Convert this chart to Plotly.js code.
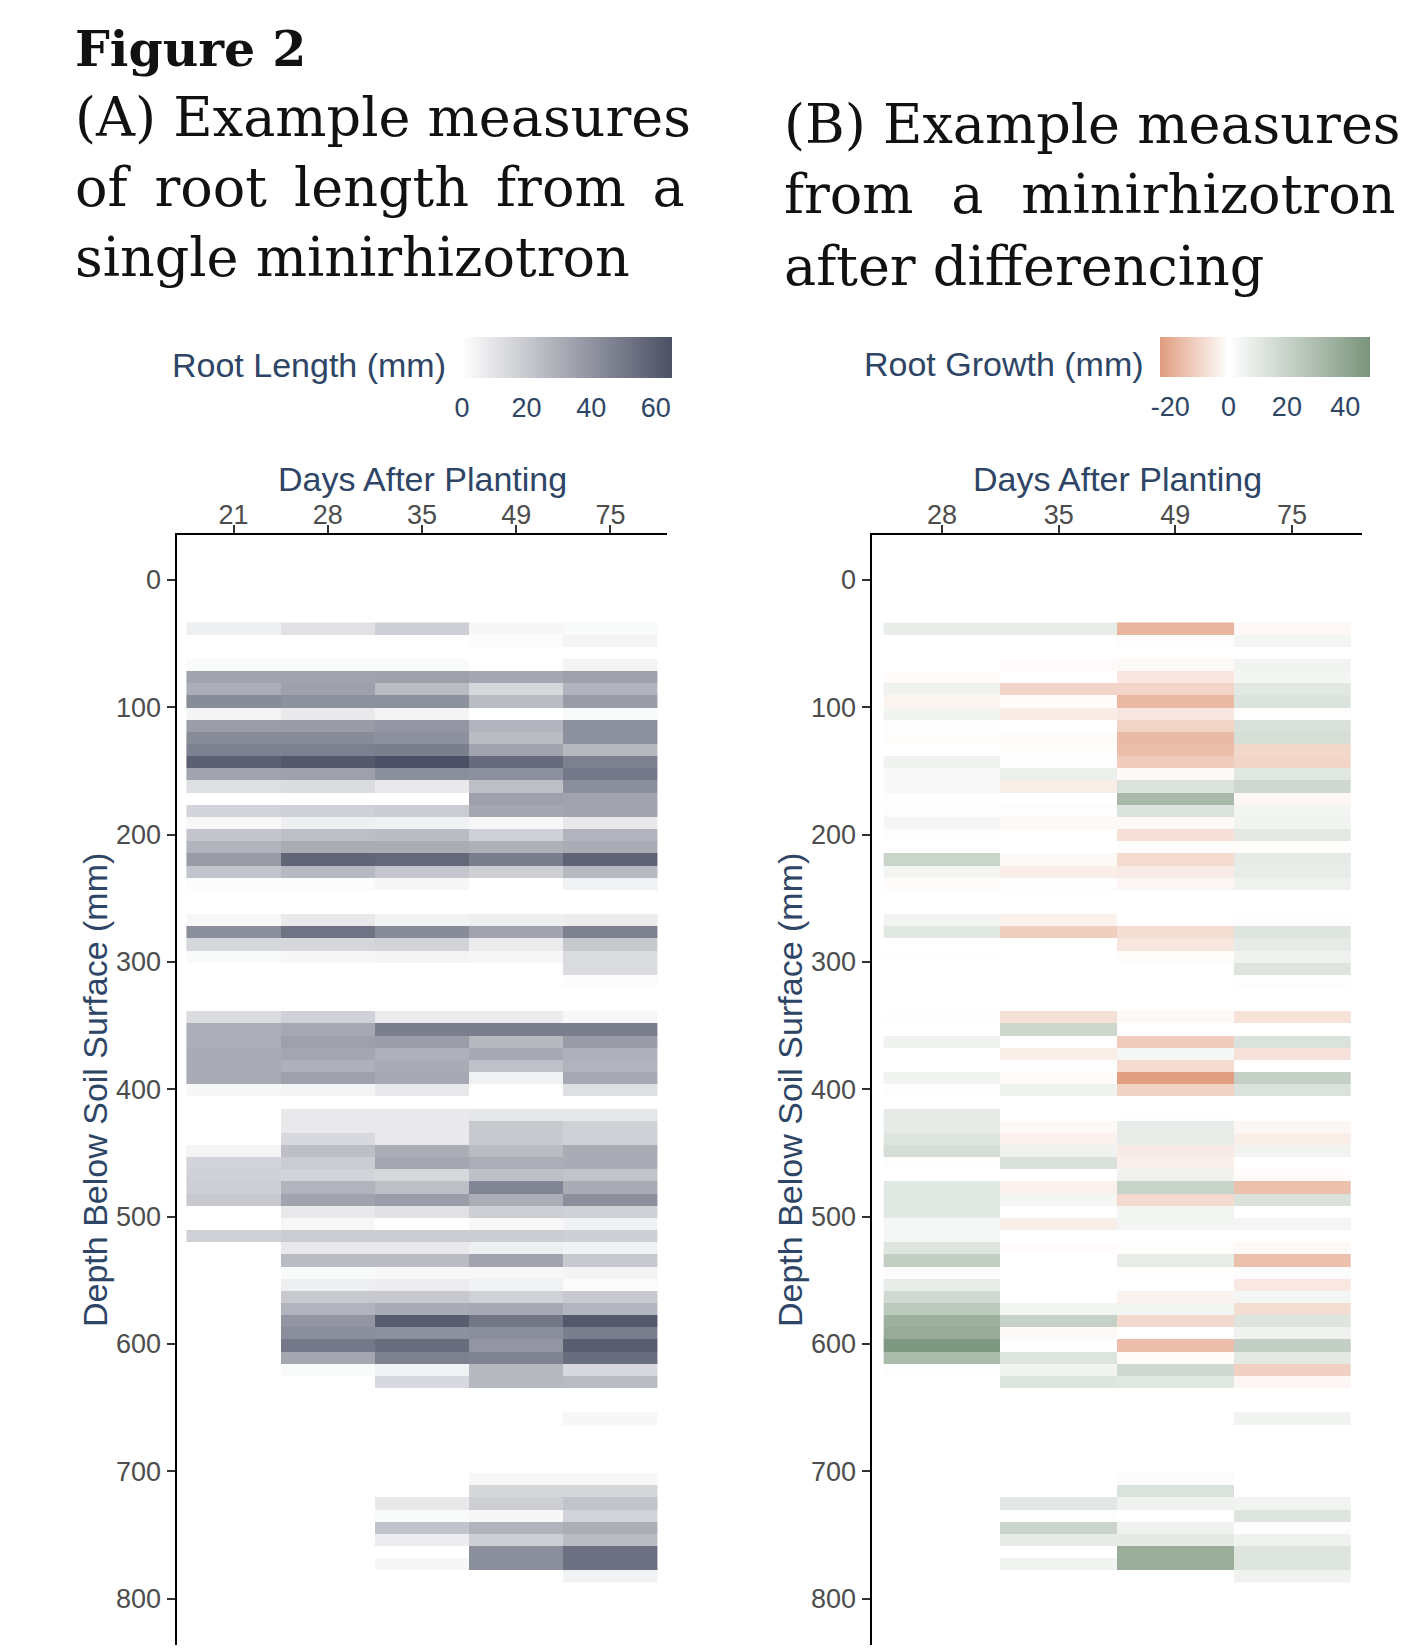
<!DOCTYPE html>
<html>
<head>
<meta charset="utf-8">
<script src="https://cdn.plot.ly/plotly-3.0.1.min.js"></script>
<style>
  html, body { margin: 0; padding: 0; background: #ffffff; }
  #chart { width: 1401px; height: 1652px; }
</style>
</head>
<body>
<div id="chart"></div>
<script>
// ---------------- DATA ----------------
// Day categories
const days = ['21', '28', '35', '49', '75'];
const diffDays = ['28', '35', '49', '75'];

// Depth below soil surface (mm) of each image row (frame centres)
const depth = [
  38.18, 47.73, 57.28, 66.82, 76.37, 85.91, 95.46, 105.01, 114.55, 124.10,
  133.64, 143.19, 152.74, 162.28, 171.83, 181.37, 190.92, 200.47, 210.01, 219.56,
  229.10, 238.65, 248.20, 257.74, 267.29, 276.83, 286.38, 295.93, 305.47, 315.02,
  324.56, 334.11, 343.66, 353.20, 362.75, 372.29, 381.84, 391.39, 400.93, 410.48,
  420.02, 429.57, 439.12, 448.66, 458.21, 467.75, 477.30, 486.85, 496.39, 505.94,
  515.48, 525.03, 534.58, 544.12, 553.67, 563.21, 572.76, 582.31, 591.85, 601.40,
  610.94, 620.49, 630.04, 639.58, 649.13, 658.67, 668.22, 677.77, 687.31, 696.86,
  706.40, 715.95, 725.50, 735.04, 744.59, 754.13, 763.68, 773.23, 782.77
];

const n = null;
// (A) Root length (mm) per depth row, one array per sampling day
const rootLen21 = [
  6, n, n, 2, 34, 30, 43, 4, 36, 43,
  47, 59, 34, 12, n, 16, 3, 21, 28, 37,
  22, 1, n, n, 3, 42, 15, 2, n, n,
  n, n, 13, 30, 30, 31, 31, 31, 3, n,
  n, n, n, 4, 16, 17, 18, 20, n, n,
  17, n, n, n, n, n, n, n, n, n,
  n, n, n, n, n, n, n, n, n, n,
  n, n, n, n, n, n, n, n, n
];
const rootLen28 = [
  11, n, n, 2, 34, 35, 41, 8, 37, 43,
  47, 62, 35, 13, n, 17, 6, 24, 31, 57,
  26, 1, n, n, 8, 52, 15, 3, n, n,
  n, n, 17, 32, 35, 33, 29, 35, 4, n,
  8, 8, 14, 24, 19, 16, 28, 34, 8, 3,
  19, 8, 25, 2, 6, 20, 28, 39, 42, 50,
  33, 2, n, n, n, n, n, n, n, n,
  n, n, n, n, n, n, n, n, n
];
const rootLen35 = [
  18, n, n, 2, 35, 25, 41, 4, 39, 41,
  48, 65, 42, 8, n, 19, 5, 25, 31, 56,
  21, 3, n, n, 5, 43, 16, 4, n, n,
  n, n, 7, 48, 36, 29, 31, 32, 8, n,
  8, 8, 8, 30, 33, 15, 24, 36, 11, 0,
  19, 8, 25, 3, 7, 20, 31, 60, 41, 54,
  47, 5, 14, n, n, n, n, n, n, n,
  n, n, 8, 2, 22, 7, n, 3, n
];
const rootLen49 = [
  3, 1, n, n, 33, 15, 25, 0, 28, 25,
  34, 55, 41, 24, 35, 33, 3, 17, 29, 48,
  18, n, n, n, 6, 34, 7, 3, n, n,
  n, n, 7, 48, 26, 32, 23, 5, n, n,
  9, 20, 20, 25, 30, 23, 45, 30, 18, 3,
  19, 6, 34, 3, 5, 17, 32, 51, 42, 39,
  46, 26, 26, n, n, n, n, n, n, n,
  3, 15, 18, 3, 28, 18, 42, 42, n
];
const rootLen75 = [
  2, 4, n, 4, 35, 28, 37, 2, 41, 41,
  26, 47, 50, 42, 34, 34, 8, 28, 31, 58,
  26, 5, n, n, 7, 47, 20, 13, 13, 1,
  n, n, 3, 48, 37, 29, 28, 32, 12, n,
  9, 17, 17, 31, 31, 22, 31, 42, 17, 5,
  18, 5, 20, 4, 1, 20, 27, 62, 48, 60,
  54, 14, 25, n, n, 3, n, n, n, n,
  3, 15, 22, 16, 30, 25, 53, 53, 5
];

// (B) Root growth (mm) after differencing, one array per sampling day
const growth28 = [
  8, n, n, n, -1, 6, -2.6, 5, 1, -0.5,
  0, 6, 3, 3, 0.5, 1, 4, 1, 0, 19.7,
  4, -1, n, n, 5, 10.6, 0, 0.5, n, n,
  n, n, 0.5, 0, 6, 0, 0, 5, 1, n,
  9, 9, 12, 15.3, 1, 0, 10.5, 10.5, 10.5, 3.5,
  3.5, 12, 22, 1.5, 8, 17, 24.4, 35.4, 38, 46.7,
  31, 1, n, n, n, n, n, n, n, n,
  n, n, n, n, n, n, n, n, n
];
const growth35 = [
  8, n, n, -1, 0, -10, -1, -4.7, 0, -0.7,
  -0.5, 1, 7, -4.3, 0, 1, -1.5, 0, 0, -1.5,
  -4, 1, n, n, -3.3, -11.4, 0, 0, n, n,
  n, n, -7.3, 18, 0, -4, 0.5, -1, 6, n,
  0, -1.5, -3.3, 6, 13.5, 0, -3.3, 4, 0, -4.3,
  0, -1, 0, 0, 0, 0, 4.5, 21, -1.5, 0.5,
  12, 5, 12, n, n, n, n, n, n, n,
  n, n, 10.5, 1, 19.5, 9, n, 5, n
];
const growth49 = [
  -17.6, 1, n, -1.5, -5.7, -10, -16.6, -5.7, -10.2, -16.4,
  -15.2, -12, -1.5, 13, 31.7, 12.8, -1.5, -7.3, -0.5, -8.3,
  -5, -2, n, n, 0, -8, -6, -0.5, n, n,
  n, n, -1.5, 0, -12, 3.5, -8.3, -22.8, -10.5, n,
  0.5, 8.5, 8.5, -5, -3.6, 6, 20, -9, 4.5, 4,
  0, -0.5, 8.5, -0.3, 0, -2.8, 4.5, -9, 0, -15.3,
  -1, 17, 11, n, n, n, n, n, n, n,
  2, 13, 6, 0, 6, 9.5, 37, 37, n
];
const growth75 = [
  -1.7, 4.7, n, 5, 4, 11, 12.8, 1, 14.2, 15,
  -9.5, -10, 11, 17.5, -2, 4.5, 5, 10, -0.5, 9,
  8, 6, n, n, 1, 12, 9, 6, 12, 1,
  n, n, -7, 0, 13, -6.8, 0, 21.5, 13, n,
  0, -2, -4, 5, 0, -1, -15, 13, 0, 4,
  0, -1.5, -15, 1.5, -5.5, 4, -8, 12, 6, 22,
  10, -11, -2, n, n, 5, n, n, n, n,
  0, 0, 5, 12, 1, 6, 12, 12, 6
];

const yTicks = [0, 100, 200, 300, 400, 500, 600, 700, 800];
const lengthTicks = [0, 20, 40, 60];
const growthTicks = [-20, 0, 20, 40];

// ---------------- LAYOUT HELPERS ----------------
const W = 1401, H = 1652;
const px = v => v / W;
const py = v => 1 - v / H;

const navy = '#2E4566';
const tickGrey = '#4D4D4D';
const sans = 'Liberation Sans, Arial, sans-serif';
const serif = 'DejaVu Serif, serif';

const zA = depth.map((d, i) => [rootLen21[i], rootLen28[i], rootLen35[i], rootLen49[i], rootLen75[i]]);
const zB = depth.map((d, i) => [growth28[i], growth35[i], growth49[i], growth75[i]]);

const gMin = -23.5, gMax = 48.5;

const traceA = {
  type: 'heatmap', x: days, y: depth, z: zA, xaxis: 'x', yaxis: 'y',
  zmin: 0, zmax: 65,
  colorscale: [[0, '#FFFFFF'], [1, '#4B5064']],
  hoverongaps: false,
  colorbar: {
    orientation: 'h', x: px(462), xanchor: 'left', y: py(337), yanchor: 'top',
    len: 210, lenmode: 'pixels', thickness: 41, thicknessmode: 'pixels',
    xpad: 0, ypad: 0, outlinewidth: 0,
    tickmode: 'array', tickvals: lengthTicks, ticktext: lengthTicks.map(String),
    ticks: 'outside', ticklen: 7, tickcolor: 'rgba(0,0,0,0)',
    tickfont: { family: sans, size: 27, color: navy }
  }
};
const traceB = {
  type: 'heatmap', x: diffDays, y: depth, z: zB, xaxis: 'x2', yaxis: 'y2',
  zmin: gMin, zmax: gMax,
  colorscale: [[0, '#E09C7E'], [(0 - gMin) / (gMax - gMin), '#FFFFFF'], [1, '#7A947C']],
  hoverongaps: false,
  colorbar: {
    orientation: 'h', x: px(1160), xanchor: 'left', y: py(337), yanchor: 'top',
    len: 210, lenmode: 'pixels', thickness: 40, thicknessmode: 'pixels',
    xpad: 0, ypad: 0, outlinewidth: 0,
    tickmode: 'array', tickvals: growthTicks, ticktext: growthTicks.map(String),
    ticks: 'outside', ticklen: 7, tickcolor: 'rgba(0,0,0,0)',
    tickfont: { family: sans, size: 27, color: navy }
  }
};

function xAxis(domain, nCat) {
  return {
    domain: domain, side: 'top', type: 'category',
    range: [-0.6, nCat - 1 + 0.6],
    showline: true, linecolor: '#000000', linewidth: 2.5,
    ticks: 'outside', ticklen: 8, tickwidth: 2, tickcolor: '#333333',
    ticklabelstandoff: -10,
    tickfont: { family: sans, size: 27, color: tickGrey },
    showgrid: false, zeroline: false, fixedrange: true
  };
}
function yAxis(anchor) {
  return {
    domain: [py(1645), py(535)], anchor: anchor,
    range: [836.5, -35.3],
    tickmode: 'array', tickvals: yTicks, ticktext: yTicks.map(String),
    showline: true, linecolor: '#000000', linewidth: 2.5,
    ticks: 'outside', ticklen: 8, tickwidth: 2, tickcolor: '#333333',
    tickfont: { family: sans, size: 27, color: tickGrey },
    showgrid: false, zeroline: false, fixedrange: true
  };
}

function note(text, x, y, opts) {
  return Object.assign({
    text: text, x: x, y: y, xref: 'paper', yref: 'paper',
    showarrow: false, xanchor: 'left', yanchor: 'middle', borderpad: 0
  }, opts);
}

const titleFont = { family: serif, size: 54, color: '#111111' };
const axisTitleFont = { family: sans, size: 34, color: navy };

const annotations = [
  note('<b>Figure 2</b>', px(74), py(49), { font: { family: serif, size: 49, color: '#111111' } }),
  note('(A) Example measures', px(74), py(118), { font: titleFont }),
  note('of\u2002root\u2002length\u2002from\u2002a', px(74), py(188), { font: titleFont }),
  note('single minirhizotron', px(74), py(258), { font: titleFont }),
  note('(B) Example measures', px(783), py(125), { font: titleFont }),
  note('from\u2002\u2009a\u2002\u2009minirhizotron', px(783), py(195), { font: titleFont }),
  note('after differencing', px(783), py(266), { font: titleFont }),
  note('Root Length (mm)', px(171), py(365), { font: axisTitleFont }),
  note('Root Growth (mm)', px(863), py(364), { font: axisTitleFont }),
  note('Days After Planting', px(422), py(479), { font: axisTitleFont, xanchor: 'center' }),
  note('Days After Planting', px(1117), py(479), { font: axisTitleFont, xanchor: 'center' }),
  note('Depth Below Soil Surface (mm)', px(95), py(1090), { font: axisTitleFont, xanchor: 'center', textangle: -90 }),
  note('Depth Below Soil Surface (mm)', px(790), py(1090), { font: axisTitleFont, xanchor: 'center', textangle: -90 })
];

const layout = {
  width: W, height: H,
  margin: { l: 0, r: 0, t: 0, b: 0, pad: 0 },
  paper_bgcolor: '#FFFFFF', plot_bgcolor: '#FFFFFF',
  font: { family: sans, color: navy },
  showlegend: false,
  xaxis: Object.assign(xAxis([px(177), px(667)], days.length), { anchor: 'y' }),
  yaxis: yAxis('x'),
  xaxis2: Object.assign(xAxis([px(872), px(1362)], diffDays.length), { anchor: 'y2' }),
  yaxis2: yAxis('x2'),
  annotations: annotations
};

Plotly.newPlot('chart', [traceA, traceB], layout, { displayModeBar: false, staticPlot: true });
</script>
</body>
</html>
